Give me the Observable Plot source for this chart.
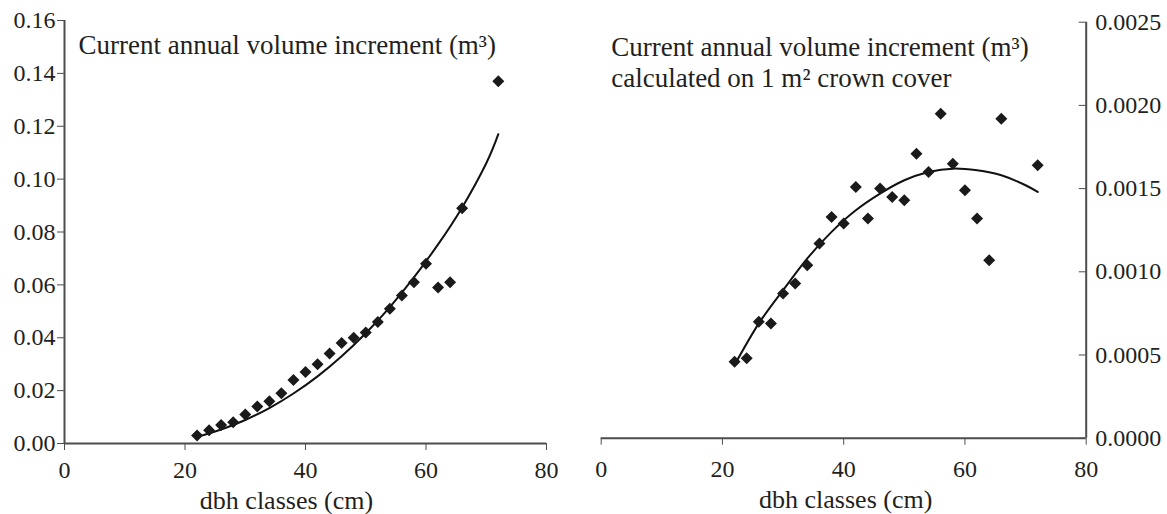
<!DOCTYPE html>
<html>
<head>
<meta charset="utf-8">
<script src="https://cdn.jsdelivr.net/npm/d3@7"></script>
<script src="https://cdn.jsdelivr.net/npm/@observablehq/plot@0.6"></script>
<style>
  html, body { margin: 0; padding: 0; background: #fff; }
  #wrap { position: relative; width: 1167px; height: 514px; overflow: hidden; }
  #left, #right { position: absolute; top: 0; }
  #left { left: 0; }
  #right { left: 583px; }
</style>
</head>
<body>
<div id="wrap"><div id="left"></div><div id="right"></div></div>
<script>
// dbh classes (cm)
const dbh = [22, 24, 26, 28, 30, 32, 34, 36, 38, 40, 42, 44, 46, 48, 50, 52, 54, 56, 58, 60, 62, 64, 66, 72];
// Current annual volume increment (m3)
const increment = [0.003, 0.005, 0.007, 0.008, 0.011, 0.014, 0.016, 0.019, 0.024, 0.027, 0.030, 0.034, 0.038, 0.040, 0.042, 0.046, 0.051, 0.056, 0.061, 0.068, 0.059, 0.061, 0.089, 0.137];
// Increment per 1 m2 crown cover
const incrementPerCrown = [0.00046, 0.00048, 0.00070, 0.00069, 0.00087, 0.00093, 0.00104, 0.00117, 0.00133, 0.00129, 0.00151, 0.00132, 0.00150, 0.00145, 0.00143, 0.00171, 0.00160, 0.00195, 0.00165, 0.00149, 0.00132, 0.00107, 0.00192, 0.00164];
// fitted curves
const fitX = [22, 26, 30, 34, 38, 42, 46, 50, 54, 58, 62, 66, 70, 72];
const fitLeft = [0.0025, 0.0053, 0.0089, 0.0134, 0.0189, 0.0254, 0.0330, 0.0417, 0.0516, 0.0628, 0.0753, 0.0893, 0.1060, 0.1170];
const fitRight = [0.00044, 0.00069, 0.00089, 0.00108, 0.00124, 0.00137, 0.00147, 0.00155, 0.00160, 0.00162, 0.00161, 0.00158, 0.00152, 0.00148];
// ticks
const xTicks = [0, 20, 40, 60, 80];
const yTicksLeft = [0, 0.02, 0.04, 0.06, 0.08, 0.10, 0.12, 0.14, 0.16];
const yTicksRight = [0, 0.0005, 0.0010, 0.0015, 0.0020, 0.0025];
// texts
const titleLeft = "Current annual volume increment (m³)";
const titleRight = "Current annual volume increment (m³)\ncalculated on 1 m² crown cover";
const xLabel = "dbh classes (cm)";

const ptsL = dbh.map((d, i) => ({x: d, y: increment[i]}));
const ptsR = dbh.map((d, i) => ({x: d, y: incrementPerCrown[i]}));
const fitL = fitX.map((d, i) => ({x: d, y: fitLeft[i]}));
const fitR = fitX.map((d, i) => ({x: d, y: fitRight[i]}));

const ink = "#231f20";
const axisGray = "#4d4d4d";
const font = "'Liberation Serif', 'Times New Roman', serif";

const left = Plot.plot({
  width: 583, height: 514,
  marginLeft: 64, marginRight: 37, marginTop: 20, marginBottom: 71,
  style: {fontFamily: font, fontSize: "24px", color: ink, background: "white"},
  x: {domain: [0, 80]},
  y: {domain: [0, 0.16]},
  marks: [
    Plot.axisY({ticks: yTicksLeft, tickFormat: d => d.toFixed(2), tickSize: 7, tickPadding: 2, label: null, stroke: axisGray, fill: ink}),
    Plot.axisX({ticks: xTicks, tickFormat: d => String(d), tickSize: 7, tickPadding: 10, label: null, stroke: axisGray, fill: ink}),
    Plot.ruleX([0], {stroke: axisGray, strokeWidth: 2}),
    Plot.ruleY([0], {stroke: axisGray, strokeWidth: 2}),
    Plot.line(fitL, {x: "x", y: "y", stroke: "#111", strokeWidth: 2, curve: "natural"}),
    Plot.dot(ptsL, {x: "x", y: "y", symbol: "diamond2", r: 5.4, fill: "#1a1a1a", stroke: "none"}),
    Plot.text([titleLeft], {frameAnchor: "top-left", textAnchor: "start", lineAnchor: "top", dx: 14, dy: 14, fontSize: 27, fill: ink}),
    Plot.text([xLabel], {frameAnchor: "bottom", lineAnchor: "bottom", dx: -19, dy: 65, fontSize: 26, fill: ink})
  ]
});

const right = Plot.plot({
  width: 584, height: 514,
  marginLeft: 17.7, marginRight: 81.3, marginTop: 21.7, marginBottom: 76.3,
  style: {fontFamily: font, fontSize: "24px", color: ink, background: "white"},
  x: {domain: [0, 80]},
  y: {domain: [0, 0.0025]},
  marks: [
    Plot.axisY({ticks: yTicksRight, anchor: "left", frameAnchor: "right", tickSize: 7, fill: "none", label: null, stroke: axisGray}),
    Plot.axisY({ticks: yTicksRight, anchor: "right", tickSize: 0, tickPadding: 9, tickFormat: d => d.toFixed(4), label: null, fill: ink}),
    Plot.axisX({ticks: xTicks, tickFormat: d => String(d), tickSize: 7, tickPadding: 15, label: null, stroke: axisGray, fill: ink}),
    Plot.ruleX([80], {stroke: axisGray, strokeWidth: 2}),
    Plot.ruleY([0], {stroke: axisGray, strokeWidth: 2}),
    Plot.line(fitR, {x: "x", y: "y", stroke: "#111", strokeWidth: 2, curve: "natural"}),
    Plot.dot(ptsR, {x: "x", y: "y", symbol: "diamond2", r: 5.4, fill: "#1a1a1a", stroke: "none"}),
    Plot.text([titleRight], {frameAnchor: "top-left", textAnchor: "start", lineAnchor: "top", lineHeight: 1.15, dx: 10, dy: 12, fontSize: 27, fill: ink}),
    Plot.text([xLabel], {frameAnchor: "bottom", lineAnchor: "bottom", dx: 2, dy: 70, fontSize: 26, fill: ink})
  ]
});

document.getElementById("left").appendChild(left);
document.getElementById("right").appendChild(right);
</script>
</body>
</html>
